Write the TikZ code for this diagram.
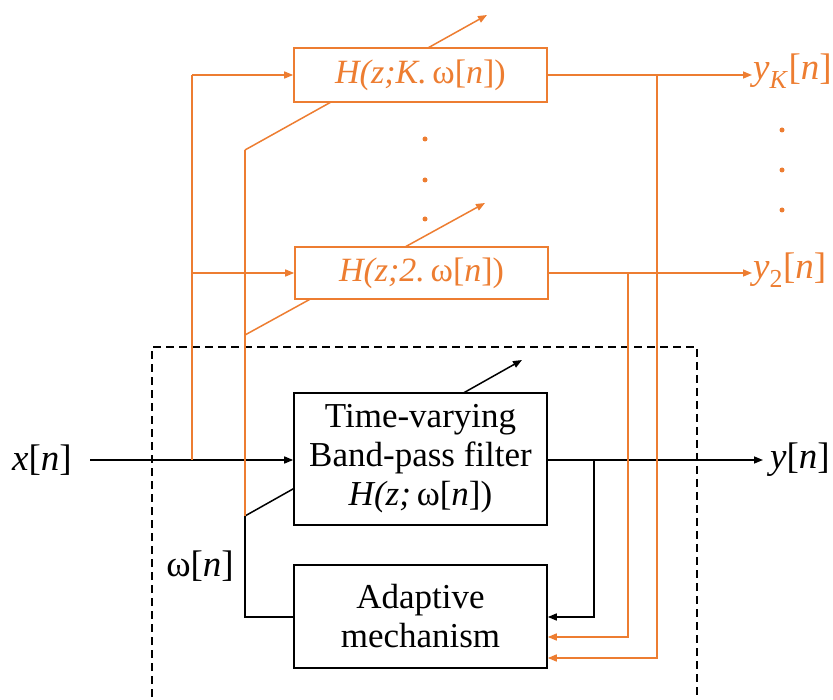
\documentclass[tikz,border=0pt]{standalone}
\usepackage{fontspec}
\setmainfont{Liberation Serif}
\usetikzlibrary{arrows.meta}
\definecolor{accent}{HTML}{ED7D31}
\begin{document}
\begin{tikzpicture}[x=1pt,y=-1pt,
  lbl/.style={font=\fontsize{37}{40}\selectfont, inner sep=0pt},
  blkbox/.style={draw=black, line width=1.6pt, fill=white, minimum width=253pt,
    align=center, font=\fontsize{35}{39}\selectfont, inner sep=0pt},
  orbox/.style={draw=accent, line width=1.6pt, fill=white, minimum width=253pt,
    text=accent, font=\fontsize{34}{38}\selectfont, inner sep=0pt},
  wire/.style={line width=1.5pt},
  owire/.style={line width=1.5pt, draw=accent},
  tip/.style={-{Triangle[length=9pt,width=7pt]}},
  dotmark/.style={circle, fill=accent, inner sep=0pt, minimum size=5pt}]
\useasboundingbox (0,0) rectangle (833,700);

% enclosing dashed frame around the adaptive filter
\draw[line width=1.6pt, dash pattern=on 8pt off 5pt] (152,710) -- (152,347) -- (697,347) -- (697,710);

% frequency-control coordinates
\coordinate (wK) at (245,150);
\coordinate (w2) at (245,335);
\coordinate (wM) at (245,516);
\coordinate (wB) at (245,617);
\coordinate (tK) at (487,15);
\coordinate (t2) at (485,203);
\coordinate (tM) at (522,360);

% diagonal "variable" arrows, drawn behind the boxes
\draw[owire, tip, accent] (wK) -- (tK);
\draw[owire, tip, accent] (w2) -- (t2);
\draw[wire, tip] (wM) -- (tM);

% filter boxes
\node[orbox, minimum height=54pt] (hK) at (420.5,75) {\textit{H(z;K.}\,ω[\textit{n}])};
\node[orbox, minimum height=52pt] (h2) at (421.5,273) {\textit{H(z;2.}\,ω[\textit{n}])};
\node[blkbox, minimum height=132pt] (hM) at (420.5,459) {Time-varying\\Band-pass filter\\\textit{H(z;}\,ω[\textit{n}])};
\node[blkbox, minimum height=103pt] (adapt) at (420.5,616.5) {Adaptive\\mechanism};

% signal labels
\node[lbl] (xin) at (42,460) {\textit{x}[\textit{n}]};
\node[lbl] (yout) at (800,460) {\textit{y}[\textit{n}]};
\node[lbl, text=accent, anchor=west] (yK) at (753,71) {\textit{y}\textsubscript{\textit{K}}[\textit{n}]};
\node[lbl, text=accent, anchor=west] (y2) at (753,270) {\textit{y}\textsubscript{2}[\textit{n}]};
\node[lbl] (om) at (200,566) {ω[\textit{n}]};

% input path and fan-out to the filter bank
\coordinate (xs) at (90,460);
\coordinate (xb) at (192,460);
\coordinate (xb2) at (192,273);
\coordinate (xbK) at (192,75);
\draw[wire, tip] (xs) -- (hM.west |- xs);
\draw[owire] (xb) -- (xbK);
\draw[owire, tip, accent] (xbK) -- (hK.west |- xbK);
\draw[owire, tip, accent] (xb2) -- (h2.west |- xb2);

% control line from the adaptive mechanism
\draw[owire] (wK) -- (w2) -- (wM);
\draw[wire] (adapt.west |- wB) -- (wB) -- (wM);

% outputs
\coordinate (yMe) at (763,460);
\coordinate (yKe) at (752,75);
\coordinate (y2e) at (752,273);
\draw[wire, tip] (hM.east |- yMe) -- (yMe);
\draw[owire, tip, accent] (hK.east |- yKe) -- (yKe);
\draw[owire, tip, accent] (h2.east |- y2e) -- (y2e);

% feedback into the adaptive mechanism
\coordinate (fM) at (594,460);
\coordinate (fMb) at (594,617);
\coordinate (f2) at (628,273);
\coordinate (f2b) at (628,637);
\coordinate (fK) at (657,75);
\coordinate (fKb) at (657,658);
\draw[wire, tip] (fM) -- (fMb) -- (adapt.east |- fMb);
\draw[owire, tip, accent] (f2) -- (f2b) -- (adapt.east |- f2b);
\draw[owire, tip, accent] (fK) -- (fKb) -- (adapt.east |- fKb);

% ellipsis dots
\node[dotmark] (d1) at (425,139) {};
\node[dotmark] (d2) at (425,180) {};
\node[dotmark] (d3) at (425,219) {};
\node[dotmark] (e1) at (782,130) {};
\node[dotmark] (e2) at (782,170) {};
\node[dotmark] (e3) at (782,210) {};
\end{tikzpicture}
\end{document}
